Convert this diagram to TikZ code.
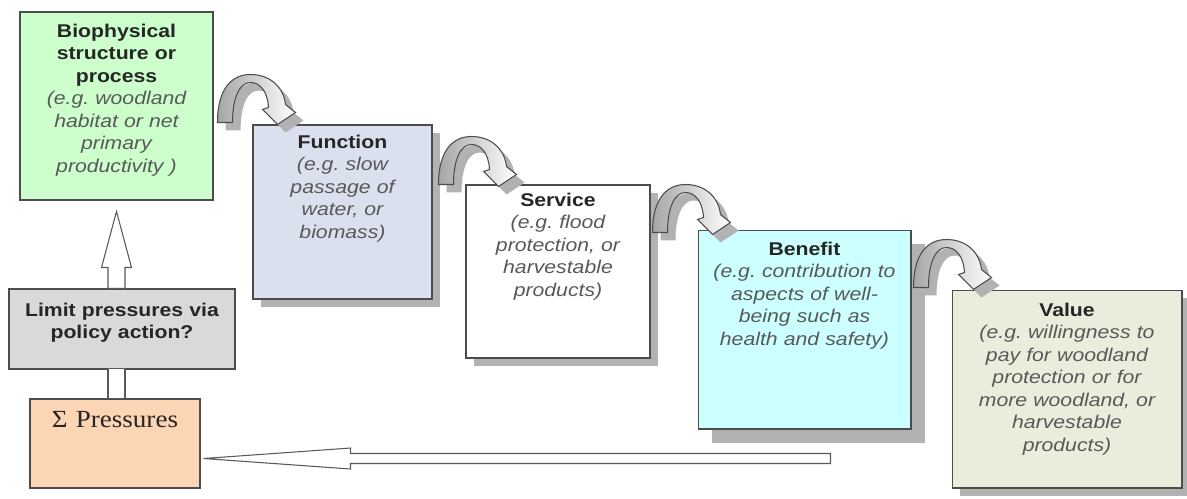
\documentclass[tikz,border=0pt]{standalone}
\usepackage{fontspec}
\setmainfont{Liberation Sans}[FakeStretch=1.15]
\newfontfamily\pressfont{Liberation Serif}[FakeStretch=1.1]
\usepackage{xcolor}
\usepackage{tikz}
\usetikzlibrary{positioning}
\usetikzlibrary{shadows}
\frenchspacing

\definecolor{biogreen}{HTML}{CCFFCC}
\definecolor{funcblue}{HTML}{DAE0EE}
\definecolor{benecyan}{HTML}{CCFFFF}
\definecolor{valbeige}{HTML}{EBEDDC}
\definecolor{limitgray}{HTML}{D9D9D9}
\definecolor{presspeach}{HTML}{FCD5B4}

\begin{document}
\begin{tikzpicture}
                [x=0.02cm, y=-0.02cm,
                 box/.style = {draw=black!70, line width=0.6pt, inner sep=0pt},
                 castshadow/.style = {drop shadow={shadow xshift=0.16cm, shadow yshift=-0.16cm, fill=black!30, opacity=1}},
                 words/.style = {anchor=north, inner sep=0pt, text width=4.4cm, align=center, text=black!85, font=\fontsize{10.5}{12.8}\selectfont},
                 block/.style = {draw=black!65, line width=0.6pt, fill=white},
                 curlarrow/.pic = {
                   \draw[draw=black!70, line width=0.6pt, left color=black!35, right color=white, castshadow]
                     (0,0) .. controls (0,-35) and (15,-48) .. (33,-48)
                     .. controls (52,-48) and (66,-36) .. (68,-18) -- (78,-10) -- (60,2) -- (45,-13) -- (51,-15)
                     .. controls (50,-32) and (42,-40) .. (33,-40)
                     .. controls (22,-40) and (15,-25) .. (15,0) -- cycle;
                 }]
                \useasboundingbox (0,0) rectangle (1187,498);

                \node[box, fill=biogreen, minimum width=3.86cm, minimum height=3.76cm] (bio) at (116.5,106) {};
                \node[box, castshadow, fill=funcblue, minimum width=3.58cm, minimum height=3.48cm] (func) at (342.5,212) {};
                \node[box, castshadow, fill=white, minimum width=3.68cm, minimum height=3.46cm] (serv) at (558,271.5) {};
                \node[box, drop shadow={shadow xshift=0.28cm, shadow yshift=-0.28cm, fill=black!30, opacity=1}, fill=benecyan, minimum width=4.26cm, minimum height=3.98cm] (bene) at (804.5,329.5) {};
                \node[box, castshadow, fill=valbeige, minimum width=4.6cm, minimum height=3.96cm] (val) at (1067,389) {};
                \node[box, fill=limitgray, minimum width=4.52cm, minimum height=1.6cm] (limit) at (122,329) {};
                \node[box, fill=presspeach, minimum width=3.4cm, minimum height=1.78cm] (press) at (115,443.5) {};

                \node[words] (bio-text) at ([yshift=-0.24cm]bio.north)
                  {\bfseries Biophysical\\ structure or\\ process\\
                   \mdseries\itshape\color{black!65}(e.g. woodland\\ habitat or net\\ primary\\ productivity )};
                \node[words] (func-text) at ([yshift=-0.2cm]func.north)
                  {\bfseries Function\\ \mdseries\itshape\color{black!65}(e.g. slow\\ passage of\\ water, or\\ biomass)};
                \node[words] (serv-text) at ([yshift=-0.16cm]serv.north)
                  {\bfseries Service\\ \mdseries\itshape\color{black!65}(e.g. flood\\ protection, or\\ harvestable\\ products)};
                \node[words] (bene-text) at ([yshift=-0.24cm]bene.north)
                  {\bfseries Benefit\\ \mdseries\itshape\color{black!65}(e.g. contribution to\\ aspects of well-\\ being such as\\ health and safety)};
                \node[words] (val-text) at ([yshift=-0.26cm]val.north)
                  {\bfseries Value\\ \mdseries\itshape\color{black!65}(e.g. willingness to\\ pay for woodland\\ protection or for\\ more woodland, or\\ harvestable\\ products)};
                \node[words] (limit-text) at ([yshift=-0.28cm]limit.north)
                  {\bfseries Limit pressures via\\ policy action?};
                \node[words, font=\pressfont\fontsize{14}{16}\selectfont] (press-text) at ([yshift=-0.26cm]press.north) {Σ Pressures};

                % block arrows between the boxes
                \pic at ([shift={(4,111)}]bio.north east) {curlarrow};
                \pic at ([shift={(6,60)}]func.north east) {curlarrow};
                \pic at ([shift={(2,48)}]serv.north east) {curlarrow};
                \pic at ([shift={(2,58)}]bene.north east) {curlarrow};

                \coordinate (upfoot) at (bio.south |- limit.north);
                \coordinate (lowfoot) at (bio.south |- press.north);
                \coordinate (backtip) at ([shift={(3,15)}]press.east);
                \draw[block] (upfoot) ++(-8.5,0) -- ++(0,-21) -- ++(-6.5,0) -- ++(15,-56) -- ++(15,56) -- ++(-6.5,0) -- ++(0,21) -- cycle;
                \draw[block] (lowfoot) ++(-8.5,0) rectangle ++(17,-30);
                \draw[block] (backtip) -- ++(147,-10.5) -- ++(0,5.5) -- ++(480,0) -- ++(0,10) -- ++(-480,0) -- ++(0,5.5) -- cycle;
\end{tikzpicture}
\end{document}
